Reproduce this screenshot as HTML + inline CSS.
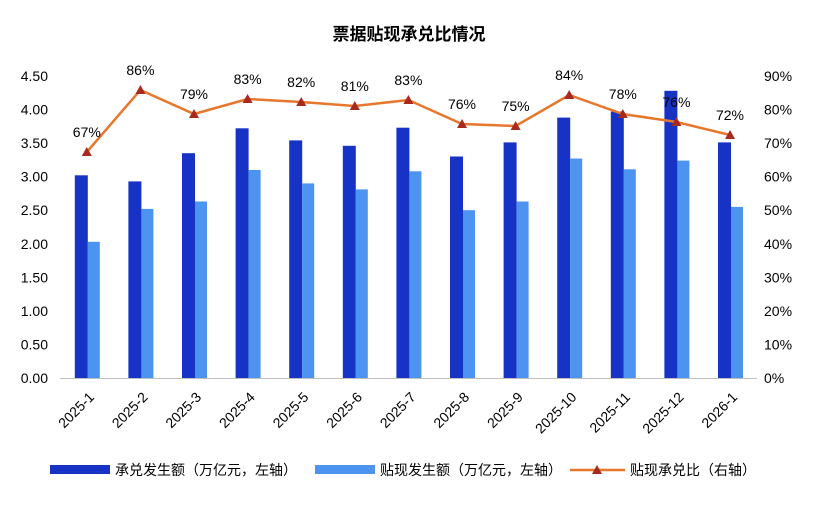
<!DOCTYPE html>
<html><head><meta charset="utf-8"><style>
body{margin:0;background:#fff}
text{font-family:"Liberation Sans","Noto Sans CJK SC",sans-serif;fill:#000}
</style></head><body>
<svg width="819" height="502" xmlns="http://www.w3.org/2000/svg">
<text x="409" y="40" text-anchor="middle" font-size="17" font-weight="bold">票据贴现承兑比情况</text>
<g font-size="14" text-anchor="end">
<text x="48" y="383">0.00</text><text x="48" y="349.4">0.50</text><text x="48" y="315.9">1.00</text><text x="48" y="282.3">1.50</text><text x="48" y="248.8">2.00</text><text x="48" y="215.2">2.50</text><text x="48" y="181.7">3.00</text><text x="48" y="148.1">3.50</text><text x="48" y="114.6">4.00</text><text x="48" y="81">4.50</text>
</g>
<g font-size="14">
<text x="764" y="383">0%</text><text x="764" y="349.4">10%</text><text x="764" y="315.9">20%</text><text x="764" y="282.3">30%</text><text x="764" y="248.8">40%</text><text x="764" y="215.2">50%</text><text x="764" y="181.7">60%</text><text x="764" y="148.1">70%</text><text x="764" y="114.6">80%</text><text x="764" y="81">90%</text>
</g>
<g fill="#1633c6">
<rect x="74.8" y="175.3" width="13" height="202.7"/>
<rect x="128.4" y="181.4" width="13" height="196.6"/>
<rect x="182" y="153.2" width="13" height="224.8"/>
<rect x="235.6" y="128.3" width="13" height="249.7"/>
<rect x="289.2" y="140.4" width="13" height="237.6"/>
<rect x="342.8" y="145.8" width="13" height="232.2"/>
<rect x="396.4" y="127.7" width="13" height="250.3"/>
<rect x="450" y="156.5" width="13" height="221.5"/>
<rect x="503.6" y="142.4" width="13" height="235.6"/>
<rect x="557.2" y="117.6" width="13" height="260.4"/>
<rect x="610.8" y="111.6" width="13" height="266.4"/>
<rect x="664.4" y="90.8" width="13" height="287.2"/>
<rect x="718" y="142.4" width="13" height="235.6"/>
</g>
<g fill="#4d94f0">
<rect x="87.8" y="241.8" width="12" height="136.2"/>
<rect x="141.4" y="208.9" width="12" height="169.1"/>
<rect x="195" y="201.5" width="12" height="176.5"/>
<rect x="248.6" y="170" width="12" height="208"/>
<rect x="302.2" y="183.4" width="12" height="194.6"/>
<rect x="355.8" y="189.4" width="12" height="188.6"/>
<rect x="409.4" y="171.3" width="12" height="206.7"/>
<rect x="463" y="210.2" width="12" height="167.8"/>
<rect x="516.6" y="201.5" width="12" height="176.5"/>
<rect x="570.2" y="158.5" width="12" height="219.5"/>
<rect x="623.8" y="169.3" width="12" height="208.7"/>
<rect x="677.4" y="160.6" width="12" height="217.4"/>
<rect x="731" y="206.9" width="12" height="171.1"/>
</g>
<line x1="60" y1="378.5" x2="757" y2="378.5" stroke="#bfbfbf"/>
<polyline points="86.8,152 140.4,90 194,114 247.6,99 301.2,102 354.8,106 408.4,100 462,124 515.6,126 569.2,95 622.8,114 676.4,122 730,135" fill="none" stroke="#e8772e" stroke-width="2.5"/>
<g fill="#a82a1e">
<polygon points="86.8,147 91.8,156 81.8,156"/>
<polygon points="140.4,85 145.4,94 135.4,94"/>
<polygon points="194,109 199,118 189,118"/>
<polygon points="247.6,94 252.6,103 242.6,103"/>
<polygon points="301.2,97 306.2,106 296.2,106"/>
<polygon points="354.8,101 359.8,110 349.8,110"/>
<polygon points="408.4,95 413.4,104 403.4,104"/>
<polygon points="462,119 467,128 457,128"/>
<polygon points="515.6,121 520.6,130 510.6,130"/>
<polygon points="569.2,90 574.2,99 564.2,99"/>
<polygon points="622.8,109 627.8,118 617.8,118"/>
<polygon points="676.4,117 681.4,126 671.4,126"/>
<polygon points="730,130 735,139 725,139"/>
</g>
<g font-size="14" text-anchor="middle">
<text x="86.8" y="137">67%</text><text x="140.4" y="75">86%</text><text x="194" y="99">79%</text><text x="247.6" y="84">83%</text><text x="301.2" y="87">82%</text><text x="354.8" y="91">81%</text><text x="408.4" y="85">83%</text><text x="462" y="109">76%</text><text x="515.6" y="111">75%</text><text x="569.2" y="80">84%</text><text x="622.8" y="99">78%</text><text x="676.4" y="107">76%</text><text x="730" y="120">72%</text>
</g>
<g font-size="14" text-anchor="end">
<text x="95" y="398" transform="rotate(-45 95 398)">2025-1</text>
<text x="148.6" y="398" transform="rotate(-45 148.6 398)">2025-2</text>
<text x="202.2" y="398" transform="rotate(-45 202.2 398)">2025-3</text>
<text x="255.8" y="398" transform="rotate(-45 255.8 398)">2025-4</text>
<text x="309.4" y="398" transform="rotate(-45 309.4 398)">2025-5</text>
<text x="363" y="398" transform="rotate(-45 363 398)">2025-6</text>
<text x="416.6" y="398" transform="rotate(-45 416.6 398)">2025-7</text>
<text x="470.2" y="398" transform="rotate(-45 470.2 398)">2025-8</text>
<text x="523.8" y="398" transform="rotate(-45 523.8 398)">2025-9</text>
<text x="577.4" y="398" transform="rotate(-45 577.4 398)">2025-10</text>
<text x="631" y="398" transform="rotate(-45 631 398)">2025-11</text>
<text x="684.6" y="398" transform="rotate(-45 684.6 398)">2025-12</text>
<text x="738.2" y="398" transform="rotate(-45 738.2 398)">2026-1</text>
</g>
<g font-size="14">
<rect x="50" y="465" width="60" height="9" fill="#1633c6"/><text x="115" y="475">承兑发生额（万亿元，左轴）</text>
<rect x="315" y="465" width="60" height="9" fill="#4d94f0"/><text x="380" y="475">贴现发生额（万亿元，左轴）</text>
<line x1="570" y1="470" x2="625" y2="470" stroke="#e8772e" stroke-width="2.5"/><polygon points="597,465 602,474 592,474" fill="#a82a1e"/><text x="630" y="475">贴现承兑比（右轴）</text>
</g>
</svg>
</body></html>
